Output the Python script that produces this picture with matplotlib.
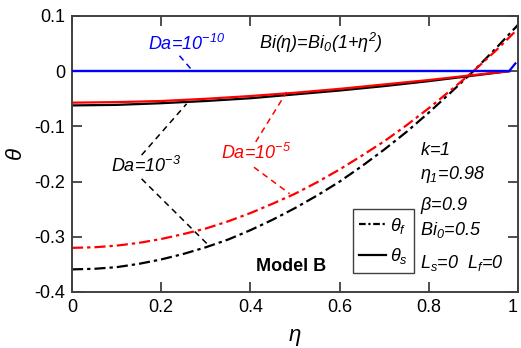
import matplotlib
matplotlib.use("Agg")
import matplotlib.pyplot as plt
from matplotlib.lines import Line2D

plt.rcParams['font.family'] = ['Liberation Sans', 'DejaVu Sans']
plt.rcParams['mathtext.fontset'] = 'custom'
plt.rcParams['mathtext.rm'] = 'Liberation Sans:italic'
plt.rcParams['mathtext.it'] = 'Liberation Sans:italic'
plt.rcParams['mathtext.bf'] = 'Liberation Sans:bold'

# ---- data ----
eta = [0.0, 0.05, 0.1, 0.15, 0.2, 0.25, 0.3, 0.35, 0.4, 0.45, 0.5,
       0.55, 0.6, 0.65, 0.7, 0.75, 0.8, 0.85, 0.9, 0.95, 1.0]
theta_f_da3 = [-0.359, -0.358, -0.355, -0.349, -0.341, -0.331, -0.319, -0.305, -0.288, -0.269, -0.248,
               -0.225, -0.200, -0.172, -0.142, -0.110, -0.075, -0.038, 0.000, 0.041, 0.084]
theta_f_da5 = [-0.320, -0.319, -0.316, -0.311, -0.304, -0.295, -0.285, -0.272, -0.257, -0.240, -0.222,
               -0.201, -0.178, -0.153, -0.127, -0.098, -0.067, -0.034, 0.000, 0.037, 0.077]

eta_s = [0.0, 0.1, 0.2, 0.3, 0.4, 0.5, 0.6, 0.7, 0.8, 0.9, 0.98]
theta_s_da3 = [-0.062, -0.061, -0.058, -0.054, -0.049, -0.042, -0.035, -0.027, -0.018, -0.008, 0.0]
theta_s_da5 = [-0.057, -0.056, -0.054, -0.050, -0.045, -0.039, -0.032, -0.024, -0.016, -0.007, 0.0]

eta_b = [0.0, 0.98, 1.0]
theta_f_da10 = [0.0, 0.0, 0.02]
eta_bs = [0.0, 0.98]
theta_s_da10 = [0.0, 0.0]

xticks = [0, 0.2, 0.4, 0.6, 0.8, 1]
xticklabels = ['0', '0.2', '0.4', '0.6', '0.8', '1']
yticks = [-0.4, -0.3, -0.2, -0.1, 0, 0.1]
yticklabels = ['-0.4', '-0.3', '-0.2', '-0.1', '0', '0.1']

# ---- figure ----
fig = plt.figure(figsize=(5.21, 3.48), dpi=100)
ax = fig.add_axes([72/521, 56/348, 446/521, 276/348])

dd = (0, (5, 1.8, 1.5, 1.8))
lw = 1.6
ax.plot(eta, theta_f_da3, color='black', lw=lw, ls=dd)
ax.plot(eta, theta_f_da5, color='red', lw=lw, ls=dd)
ax.plot(eta_s, theta_s_da3, color='black', lw=lw, ls='-')
ax.plot(eta_s, theta_s_da5, color='red', lw=lw, ls='-')
# blue θf coincides with θs up to η1; only the visible part is dashed
ax.plot(eta_b[1:], theta_f_da10[1:], color='blue', lw=lw, ls=dd)
ax.plot(eta_bs, theta_s_da10, color='blue', lw=1.7, ls='-', zorder=3)

ax.set_xlim(0, 1)
ax.set_ylim(-0.4, 0.1)
ax.set_xticks(xticks)
ax.set_xticklabels(xticklabels)
ax.set_yticks(yticks)
ax.set_yticklabels(yticklabels)
ax.tick_params(direction='in', length=7, width=1.3, color='#404040',
               labelsize=13, top=True, right=True, pad=5)
ax.get_xticklabels()[-1].set_horizontalalignment('right')
for s in ax.spines.values():
    s.set_color('#404040')
    s.set_linewidth(1.4)

ax.set_xlabel(r'$\eta$', fontsize=16, labelpad=8)
ax.set_ylabel(r'$\theta$', fontsize=16, labelpad=5)

fs = 13
# Leader lines
lead = dict(lw=1.1, ls=(0, (4, 3)))
ax.plot([0.241, 0.270], [0.028, 0.001], color='blue', **lead)
ax.plot([0.156, 0.257], [-0.152, -0.059], color='black', **lead)
ax.plot([0.156, 0.302], [-0.195, -0.312], color='black', **lead)
ax.plot([0.412, 0.481], [-0.128, -0.038], color='red', **lead)
ax.plot([0.408, 0.488], [-0.174, -0.222], color='red', **lead)

ax.text(0.257, 0.050, r'$Da$=10$^{-10}$', color='blue', fontsize=fs, style='italic',
        ha='center', va='center')
ax.text(0.42, 0.052, r'$Bi(\eta)$=$Bi_0$(1+$\eta^2$)', color='black', fontsize=fs,
        ha='left', va='center', style='italic')
ax.text(0.167, -0.171, r'$Da$=10$^{-3}$', color='black', fontsize=fs, style='italic',
        ha='center', va='center')
ax.text(0.413, -0.149, r'$Da$=10$^{-5}$', color='red', fontsize=fs, style='italic',
        ha='center', va='center')

xr = 0.78
ax.text(xr, -0.144, r'$k$=1', fontsize=fs, style='italic', ha='left', va='center')
ax.text(xr, -0.188, r'$\eta_1$=0.98', fontsize=fs, style='italic', ha='left', va='center')
ax.text(xr, -0.243, r'$\beta$=0.9', fontsize=fs, style='italic', ha='left', va='center')
ax.text(xr, -0.287, r'$Bi_0$=0.5', fontsize=fs, style='italic', ha='left', va='center')
ax.text(xr, -0.347, r'$L_s$=0  $L_f$=0', fontsize=fs, style='italic', ha='left', va='center')

ax.text(0.413, -0.354, 'Model B', fontsize=13, fontweight='bold', ha='left', va='center')

handles = [Line2D([], [], color='black', lw=lw, ls=(0, (3, 1.2, 1, 1.2))),
           Line2D([], [], color='black', lw=lw, ls='-')]
leg = ax.legend(handles, [r'$\theta_f$', r'$\theta_s$'], loc='lower left',
                bbox_to_anchor=(0.629, 0.07), fontsize=13, handlelength=1.5,
                handletextpad=0.2, borderpad=0.35, labelspacing=0.6,
                fancybox=False, framealpha=1, borderaxespad=0)
leg.get_frame().set_edgecolor('#404040')
leg.get_frame().set_linewidth(1.0)

fig.savefig('out.png', dpi=100)
